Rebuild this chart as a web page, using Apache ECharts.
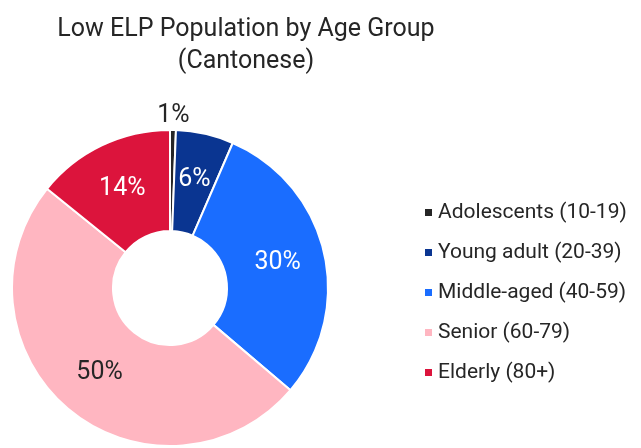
<!DOCTYPE html>
<html><head><meta charset="utf-8">
<script src="https://cdn.jsdelivr.net/npm/echarts@6/dist/echarts.min.js"></script>
<style>html,body{margin:0;padding:0;background:#fff}#c{width:641px;height:448px}</style>
</head><body><div id="c"></div>
<script>
const categories = ['Adolescents (10-19)', 'Young adult (20-39)', 'Middle-aged (40-59)', 'Senior (60-79)', 'Elderly (80+)'];
const values = [0.6, 5.9, 29.7, 49.6, 14.2];
const colors = ['#262626', '#0a3591', '#1a6dff', '#ffb6c1', '#dc143c'];
const labelColors = ['#262626', '#ffffff', '#ffffff', '#262626', '#ffffff'];

const FONT = 'Roboto';
const chart = echarts.init(document.getElementById('c'), null, {renderer: 'canvas'});
const data = categories.map((n, i) => {
  const d = {name: n, value: values[i], itemStyle: {color: colors[i]},
    label: {color: labelColors[i]}};
  if (i === 0) {
    d.label = {position: 'outside', color: labelColors[i], distanceToLabelLine: 0};
    d.labelLine = {show: false, length: 14, length2: -16};
  }
  return d;
});
chart.setOption({
  animation: false,
  title: {
    text: 'Low ELP Population by Age Group\n(Cantonese)',
    left: 241, top: 9, textAlign: 'center',
    textStyle: {fontFamily: FONT, fontWeight: 'normal', fontSize: 25, color: '#262626', lineHeight: 32}
  },
  legend: {
    orient: 'vertical', left: 418, top: 196, itemGap: 17,
    icon: 'rect', itemWidth: 9, itemHeight: 9,
    textStyle: {fontFamily: FONT, fontSize: 21, color: '#262626', lineHeight: 23},
    data: categories
  },
  series: [{
    type: 'pie', center: [170, 288], radius: [57, 158], startAngle: 90, clockwise: true,
    itemStyle: {borderColor: '#fff', borderWidth: 2},
    label: {show: true, position: 'inside', fontFamily: FONT, fontSize: 25,
      formatter: p => Math.round(p.percent) + '%'},
    labelLine: {show: false},
    data: data
  }]
});
</script></body></html>
